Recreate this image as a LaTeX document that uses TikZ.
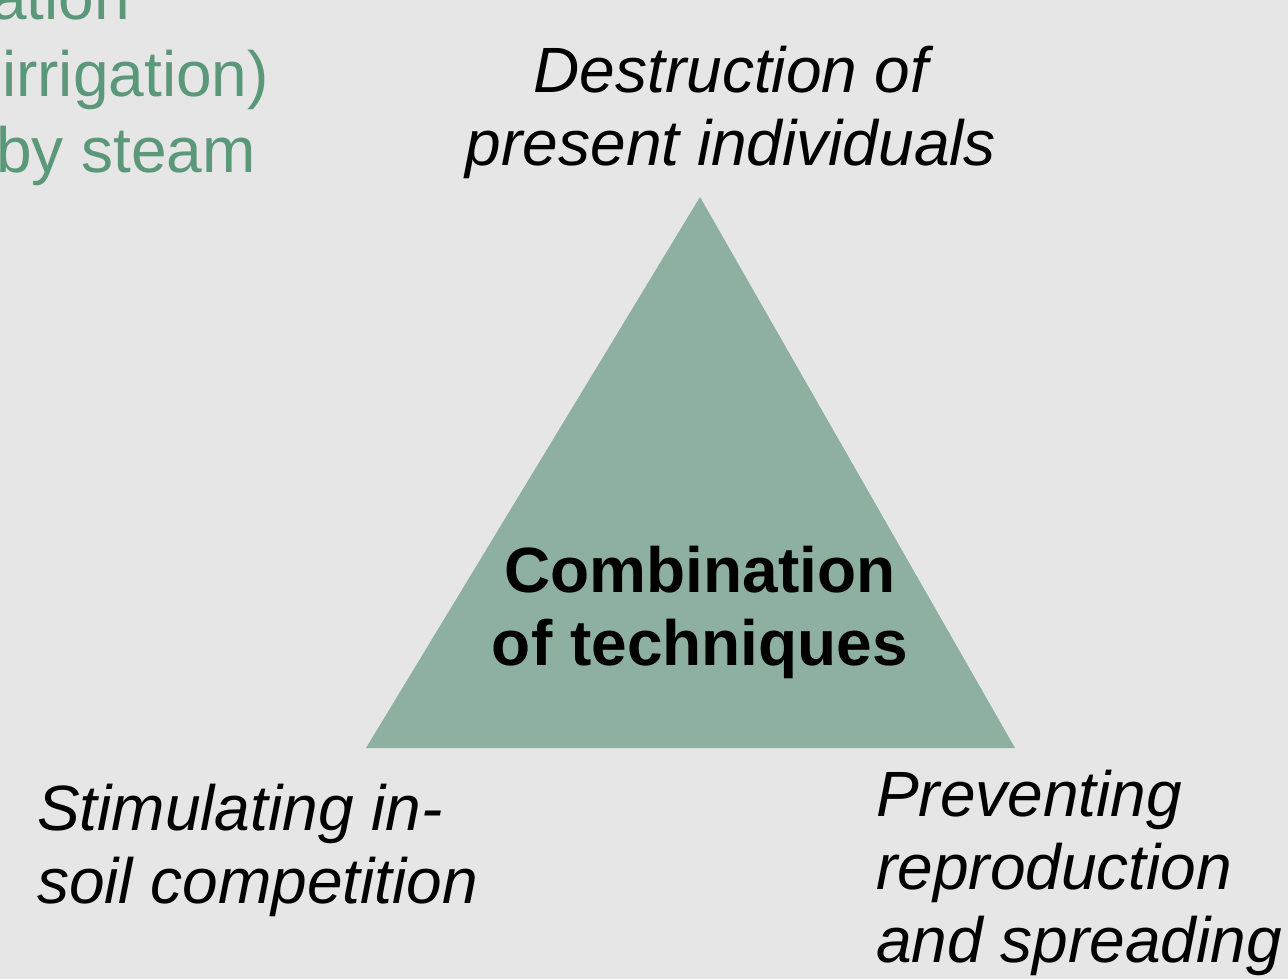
\documentclass[tikz,border=0pt]{standalone}
\usepackage{fontspec}
\setmainfont{Liberation Sans}
\usepackage{xcolor}
\usepackage{tikz}
\definecolor{fond}{HTML}{E6E6E6}
\definecolor{vertgris}{HTML}{8DB0A0}
\definecolor{vertclair}{HTML}{5B987A}
\tikzset{
  txt/.style={inner sep=0pt, font=\fontsize{64}{73}\selectfont\itshape},
  titre/.style={inner sep=0pt, align=center, font=\fontsize{64}{73}\selectfont\bfseries}
}

\begin{document}
\begin{tikzpicture}[x=1pt,y=-1pt]
                    \fill[fond] (0,0) rectangle (1288,979);
                    \useasboundingbox (0,0) rectangle (1288,979);
                    \clip (0,0) rectangle (1288,979);

                    \coordinate (som) at (700,197);
                    \coordinate (bg) at (366,748);
                    \coordinate (bd) at (1015,748);
                    \fill[vertgris] (som) -- (bg) -- (bd) -- cycle;

                    \node[txt, font=\fontsize{64}{73}\selectfont, text=vertclair, anchor=base east] (vap1) at (130,20) {ation};
                    \node[txt, font=\fontsize{64}{73}\selectfont, text=vertclair, anchor=base east] (vap2) at (269,97) {-irrigation)};
                    \node[txt, font=\fontsize{64}{73}\selectfont, text=vertclair, anchor=base east] (vap3) at (256,172) {by steam};

                    \node[txt, align=center, anchor=base] (destr) at (731,165) {Destruction of\\present individuals};
                    \node[titre, anchor=base] (combi) at (700,665) {Combination\\of techniques};
                    \node[txt, align=left, anchor=base west] (stim) at (37,903) {Stimulating in-\\soil competition};
                    \node[txt, align=left, anchor=base west] (prev) at (876,962) {Preventing\\reproduction\\and spreading};
                \end{tikzpicture}
\end{document}
